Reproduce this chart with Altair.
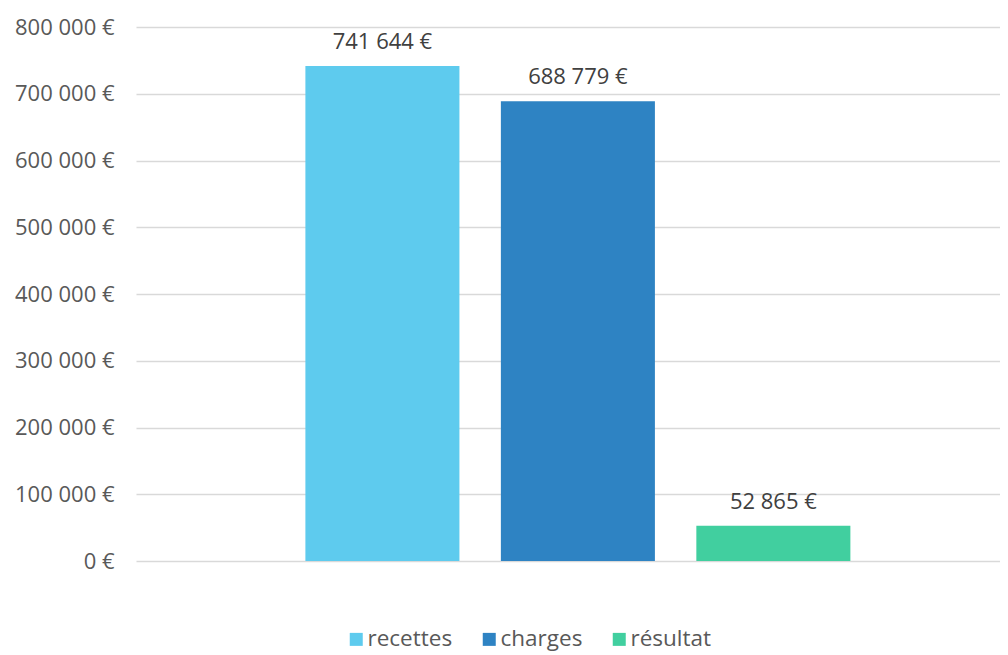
import altair as alt
import pandas as pd

series = ["recettes", "charges", "résultat"]
values = [741644, 688779, 52865]
colors = ["#5ecbee", "#2e83c3", "#41cf9f"]
y_ticks = [0, 100000, 200000, 300000, 400000, 500000, 600000, 700000, 800000]

df = pd.DataFrame({"serie": series, "valeur": values})

FONT = "Open Sans"
fmt = "replace(format(datum.value, ','), ',', ' ') + ' €'"

x_enc = alt.X(
    "serie:N",
    sort=series,
    axis=None,
    scale=alt.Scale(paddingInner=0.212, paddingOuter=0.816, align=0.531),
)

bars = alt.Chart(df).mark_bar().encode(
    x=x_enc,
    y=alt.Y(
        "valeur:Q",
        scale=alt.Scale(domain=[0, 800000], nice=False),
        axis=alt.Axis(
            values=y_ticks,
            title=None,
            domain=False,
            ticks=False,
            grid=True,
            gridColor="#d9d9d9",
            gridWidth=1.5,
            labelFont=FONT,
            labelFontSize=22,
            labelColor="#595959",
            labelPadding=22,
            labelExpr=fmt,
        ),
    ),
    color=alt.Color(
        "serie:N",
        sort=series,
        scale=alt.Scale(domain=series, range=colors),
        legend=alt.Legend(
            title=None,
            orient="none",
            direction="horizontal",
            legendX=209,
            legendY=601,
            symbolType="square",
            symbolSize=169,
            symbolStrokeWidth=0,
            labelFont=FONT,
            labelFontSize=22.5,
            labelColor="#595959",
            labelOffset=0,
            columnPadding=25,
        ),
    ),
)

labels = alt.Chart(df).transform_calculate(
    lab="replace(format(datum.valeur, ','), ',', ' ') + ' €'"
).mark_text(
    baseline="middle", dy=-24, font=FONT, fontSize=22, color="#404040"
).encode(
    x=x_enc,
    y=alt.Y("valeur:Q"),
    text="lab:N",
)

chart = (
    alt.layer(bars, labels)
    .properties(
        width=864,
        height=534,
        autosize=alt.AutoSizeParams(type="none"),
        padding={"left": 128, "top": 19, "right": 0, "bottom": 93},
        background="white",
    )
    .configure_view(stroke=None)
)

chart.save("out.html", embed_options={"renderer": "svg", "actions": False})
